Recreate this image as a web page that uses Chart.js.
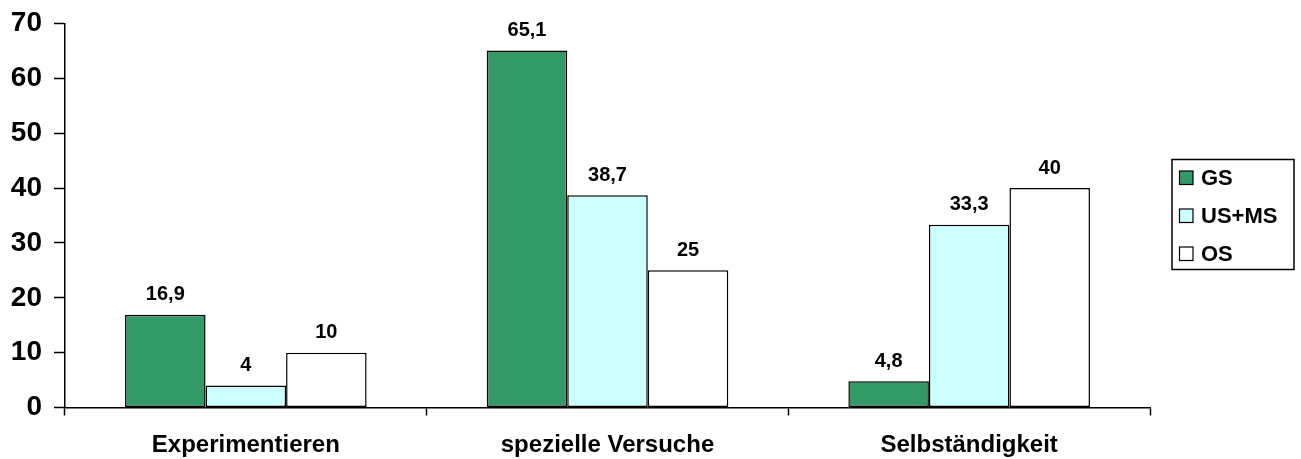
<!DOCTYPE html>
<html>
<head>
<meta charset="utf-8">
<style>
  html, body { margin: 0; padding: 0; background: #ffffff; }
  #wrap { position: relative; width: 1301px; height: 459px; }
</style>
<script src="https://cdn.jsdelivr.net/npm/chart.js@4/dist/chart.umd.min.js"></script>
</head>
<body>
<div id="wrap"><canvas id="c" width="1301" height="459"></canvas></div>
<script>
const categories = ["Experimentieren", "spezielle Versuche", "Selbständigkeit"];
const seriesNames = ["GS", "US+MS", "OS"];
const gsValues = [16.9, 65.1, 4.8];
const usmsValues = [4, 38.7, 33.3];
const osValues = [10, 25, 40];
const yTicks = [0, 10, 20, 30, 40, 50, 60, 70];

const FONT = "'Liberation Sans', Arial, Helvetica, sans-serif";
const colors = ["#339966", "#CCFFFF", "#FFFFFF"];

const fmt = v => String(v).replace('.', ',');

const valueLabels = {
  id: 'valueLabels',
  afterDatasetsDraw(chart) {
    const ctx = chart.ctx;
    ctx.save();
    ctx.font = "bold 20px " + FONT;
    ctx.fillStyle = "#000";
    ctx.textAlign = "center";
    ctx.textBaseline = "alphabetic";
    chart.data.datasets.forEach((ds, i) => {
      const meta = chart.getDatasetMeta(i);
      meta.data.forEach((bar, j) => {
        ctx.fillText(fmt(ds.data[j]), bar.x, bar.y - 14.5);
      });
    });
    ctx.restore();
  }
};

const boxLegend = {
  id: 'boxLegend',
  afterDraw(chart) {
    const ctx = chart.ctx;
    ctx.save();
    const left = 1172, top = 159.5, w = 122, h = 110;
    ctx.lineWidth = 1.5;
    ctx.strokeStyle = "#000";
    ctx.strokeRect(left, top, w, h);
    ctx.font = "bold 22px " + FONT;
    ctx.textAlign = "left";
    ctx.textBaseline = "middle";
    const ys = [178, 216, 254];
    chart.data.datasets.forEach((ds, i) => {
      const y = ys[i];
      ctx.fillStyle = ds.backgroundColor;
      ctx.fillRect(1179.5, y - 7, 13.5, 13.5);
      ctx.lineWidth = 1.2;
      ctx.strokeRect(1179.5, y - 7, 13.5, 13.5);
      ctx.fillStyle = "#000";
      ctx.fillText(ds.label, 1201, y + 1);
    });
    ctx.restore();
  }
};

const datasets = [gsValues, usmsValues, osValues].map((vals, i) => ({
  label: seriesNames[i],
  data: vals,
  backgroundColor: colors[i],
  borderColor: "#000000",
  borderWidth: 1.5,
  borderSkipped: false,
  categoryPercentage: 0.668,
  barPercentage: 1.0
}));

new Chart(document.getElementById('c'), {
  type: 'bar',
  data: { labels: categories, datasets },
  options: {
    responsive: false,
    animation: false,
    devicePixelRatio: 1,
    layout: { padding: { top: 23.5, right: 151, left: 0, bottom: 0 } },
    plugins: {
      legend: { display: false },
      tooltip: { enabled: false }
    },
    scales: {
      x: {
        grid: {
          display: true,
          drawOnChartArea: false,
          drawTicks: true,
          tickLength: 8,
          tickWidth: 1.5,
          tickColor: "#000",
          offset: true
        },
        border: { display: true, color: "#000", width: 1.5 },
        ticks: {
          color: "#000",
          font: { family: FONT, size: 24, weight: 'bold' },
          padding: 15,
          maxRotation: 0
        },
        afterFit(scale) {
          scale.height = 51.5;
          scale.paddingLeft = 0; scale.paddingRight = 0;
        }
      },
      y: {
        min: 0,
        max: 70,
        afterBuildTicks(scale) { scale.ticks = yTicks.map(v => ({ value: v })); },
        grid: {
          display: true,
          drawOnChartArea: false,
          drawTicks: true,
          tickLength: 11,
          tickWidth: 1.5,
          tickColor: "#000"
        },
        border: { display: true, color: "#000", width: 1.5 },
        ticks: {
          color: "#000",
          font: { family: FONT, size: 28, weight: 'bold' },
          padding: 12,
          callback: v => String(v)
        },
        afterFit(scale) {
          scale.width = 65;
          scale.paddingTop = 0; scale.paddingBottom = 0;
        }
      }
    }
  },
  plugins: [valueLabels, boxLegend]
});
</script>
</body>
</html>
